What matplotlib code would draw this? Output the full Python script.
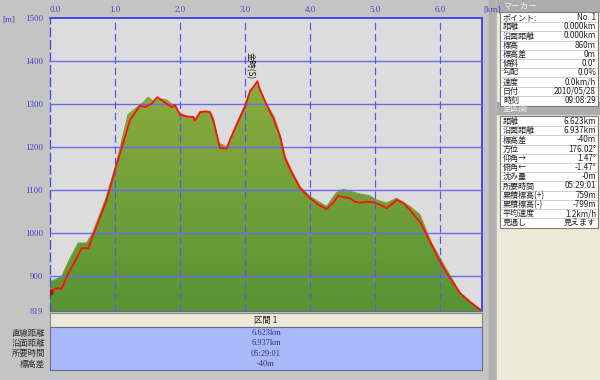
import numpy as np
import matplotlib
matplotlib.use("Agg")
import matplotlib.pyplot as plt
from matplotlib.patches import Rectangle
from matplotlib.colors import LinearSegmentedColormap

plt.rcParams['font.family'] = ['Noto Sans CJK JP', 'DejaVu Sans']

# ---- data ----
# GPS track (red line): distance [km], elevation [m]
track_km = [0.00, 0.128, 0.18, 0.257, 0.41, 0.488, 0.59, 0.666, 0.872, 1.0, 1.108,
            1.23, 1.385, 1.46, 1.565, 1.65, 1.743, 1.872, 1.923, 2.0, 2.103, 2.205,
            2.23, 2.308, 2.385, 2.46, 2.51, 2.615, 2.718, 2.77, 2.897, 3.0, 3.077,
            3.154, 3.19, 3.23, 3.333, 3.435, 3.538, 3.615, 3.72, 3.846, 4.0, 4.128,
            4.257, 4.358, 4.435, 4.51, 4.615, 4.69, 4.77, 4.872, 5.0, 5.18, 5.333,
            5.435, 5.538, 5.615, 5.69, 5.795, 5.897, 6.0, 6.103, 6.205, 6.308, 6.46,
            6.58, 6.623]
track_m = [864, 873, 870, 899, 942, 965, 965, 996, 1077, 1147, 1200,
           1263, 1296, 1293, 1301, 1316, 1306, 1293, 1298, 1275, 1271, 1270,
           1261, 1281, 1283, 1281, 1263, 1198, 1196, 1217, 1260, 1294, 1329,
           1345, 1353, 1333, 1298, 1267, 1225, 1174, 1140, 1105, 1081, 1066,
           1056, 1071, 1087, 1084, 1081, 1073, 1071, 1073, 1071, 1058, 1077,
           1070, 1054, 1039, 1027, 996, 965, 934, 907, 884, 861, 840,
           826, 822]

# terrain profile (green area)
terrain_km = [0.0, 0.18, 0.31, 0.435, 0.565, 0.666, 0.85, 1.0, 1.2, 1.385, 1.43,
              1.51, 1.59, 1.67, 1.79, 1.89, 2.0, 2.1, 2.2, 2.25, 2.31, 2.46, 2.51,
              2.6, 2.72, 2.77, 2.9, 3.0, 3.08, 3.17, 3.23, 3.33, 3.45, 3.54, 3.62,
              3.72, 3.846, 4.0, 4.257, 4.4, 4.51, 4.615, 4.77, 4.92, 5.02, 5.18,
              5.333, 5.538, 5.69, 5.87, 6.103, 6.308, 6.46, 6.58, 6.623]
terrain_m = [887, 899, 942, 977, 977, 1004, 1077, 1150, 1275, 1298, 1303,
             1316, 1306, 1312, 1310, 1298, 1279, 1272, 1270, 1265, 1283, 1283, 1268,
             1209, 1200, 1220, 1265, 1298, 1333, 1345, 1335, 1300, 1270, 1228, 1178,
             1145, 1108, 1085, 1062, 1093, 1102, 1097, 1091, 1087, 1077, 1070,
             1081, 1062, 1043, 977, 915, 861, 842, 828, 822]

peak_label = "金時(S)"

x_ticks = [0, 1, 2, 3, 4, 5, 6]
y_ticks = [819, 900, 1000, 1100, 1200, 1300, 1400, 1500]

marker_labels = ["ポイント:", "距離", "沿面距離", "標高", "標高差", "傾斜", "勾配",
                 "速度", "日付", "時刻"]
marker_values = ["No. 1", "0.000km", "0.000km", "860m", "0m", "0.0°", "0.0%",
                 "0.0km/h", "2010/05/28", "09:08:29"]

total_labels = ["距離", "沿面距離", "標高差", "方位", "仰角→", "俯角←", "沈み量",
                "所要時間", "累積標高(+)", "累積標高(-)", "平均速度", "見通し"]
total_values = ["6.623km", "6.937km", "-40m", "176.02°", "1.47°", "-1.47°", "-0m",
                "05:29:01", "759m", "-799m", "1.2km/h", "見えます"]

section_name = "区間 1"
section_labels = ["直線距離", "沿面距離", "所要時間", "標高差"]
section_values = ["6.623km", "6.937km", "05:29:01", "-40m"]

# ---- figure ----
fig = plt.figure(figsize=(6, 3.8), dpi=100, facecolor='#c4c4c4')

# background layer in pixel coordinates
bg = fig.add_axes([0, 0, 1, 1])
bg.set_xlim(0, 600)
bg.set_ylim(380, 0)
bg.axis('off')

axis_blue = '#4646c8'
serif = ['Liberation Serif', 'DejaVu Serif']

# splitter strip and right panel
bg.add_patch(Rectangle((489, 0), 8, 380, color='#b0b0b0'))
bg.add_patch(Rectangle((497, 0), 103, 380, color='#ece9d8'))
bg.add_patch(Rectangle((497, 0), 103, 12, color='#acacac'))
bg.add_patch(Rectangle((497, 102), 103, 12, color='#acacac'))
bg.text(503, 6, "マーカー", fontsize=6, color='#f4f4f4', va='center')
bg.text(503, 108, "全区間", fontsize=6, color='#f4f4f4', va='center')


def draw_table(top, labels, values, row_h=9.2):
    h = row_h * len(labels) + 2
    bg.add_patch(Rectangle((500, top), 98, h, facecolor='white',
                           edgecolor='#7a7a7a', lw=0.8))
    for i, (lab, val) in enumerate(zip(labels, values)):
        yc = top + 1 + row_h * (i + 0.5)
        if i > 0:
            bg.plot([501, 597], [top + 1 + row_h * i] * 2, color='#c8c8c8', lw=0.6)
        bg.text(503, yc, lab, fontsize=5.8, color='#222222', va='center')
        bg.text(596, yc, val, fontsize=5.8, color='#222222', va='center', ha='right')


draw_table(12, marker_labels, marker_values)
draw_table(116, total_labels, total_values)

# bottom section table
bg.add_patch(Rectangle((50, 313), 432, 14, facecolor='#ece9d8', edgecolor='#8a8a8a', lw=0.8))
bg.add_patch(Rectangle((50, 327), 432, 43, facecolor='#a8b8f8', edgecolor='#6a6a8a', lw=0.8))
bg.text(266, 320, section_name, fontsize=6, color='#222222', ha='center', va='center')
for i, (lab, val) in enumerate(zip(section_labels, section_values)):
    yc = 333 + 10.3 * i
    bg.text(45, yc, lab, fontsize=6, color='#333333', ha='right', va='center')
    bg.text(266, yc, val, fontsize=6, color='#333366', ha='center', va='center',
            family=serif)

bg.text(2, 20, "[m]", fontsize=6.5, color=axis_blue, va='center', family=serif)
bg.text(483, 10, "[km]", fontsize=6.5, color=axis_blue, va='center', family=serif)

# ---- profile axes ----
ax = fig.add_axes([50 / 600, (380 - 311) / 380, 432 / 600, 293 / 380])
ax.set_facecolor('#dcdcdc')
ymin, ymax = 819, 1500
xmax = 6.646

# green terrain with vertical gradient
poly = ax.fill_between(terrain_km, terrain_m, ymin, color='none', lw=0)
grad = np.linspace(0, 1, 256).reshape(-1, 1)
cmap = LinearSegmentedColormap.from_list('terrain_g', ['#579434', '#8aab3e'])
im = ax.imshow(grad, extent=[0, max(terrain_km), ymin, max(terrain_m)],
               origin='lower', cmap=cmap, aspect='auto', zorder=2)
im.set_clip_path(poly.get_paths()[0], transform=ax.transData)
ax.plot(terrain_km, terrain_m, color='#7f9e3a', lw=0.8, zorder=2)

# grid
for y in y_ticks[1:-1]:
    ax.axhline(y, color='#6a6af0', lw=1.0, zorder=3)
for x in x_ticks[1:]:
    ax.axvline(x, color='#5a5ae6', lw=0.9, ls=(0, (6, 3)), zorder=3)

# GPS track
ax.plot(track_km, track_m, color='#ff1010', lw=1.3, zorder=4)
ax.plot(track_km[0], track_m[0], 'o', ms=3.5, color='#b01010', zorder=5)

# peak marker label (vertical text)
ipk = int(np.argmax(track_m))
ax.text(track_km[ipk] - 0.11, track_m[ipk] + 36, peak_label, rotation=-90,
        fontsize=6, ha='center', va='center', color='#111111', zorder=5)

ax.set_xlim(0, xmax)
ax.set_ylim(ymin, ymax)

ax.xaxis.tick_top()
ax.set_xticks(x_ticks)
ax.set_xticklabels([f"{v:.1f}" for v in x_ticks], family=serif, fontsize=6.5,
                   color=axis_blue)
ax.get_xticklabels()[0].set_ha('left')
ax.set_yticks(y_ticks)
ax.set_yticklabels([str(v) for v in y_ticks], family=serif, fontsize=6.5,
                   color=axis_blue)
ax.tick_params(axis='x', length=0, pad=3)
ax.tick_params(axis='y', length=0, pad=5)

ax.spines['left'].set_color('#5050e0')
ax.spines['left'].set_linestyle((0, (6, 3)))
ax.spines['left'].set_linewidth(1.0)
for s in ['top', 'right']:
    ax.spines[s].set_color('#3c3cf0')
    ax.spines[s].set_linewidth(1.3)
ax.spines['bottom'].set_color('#6a6a8a')
ax.spines['bottom'].set_linewidth(0.8)

fig.savefig("out.png", dpi=100, facecolor=fig.get_facecolor())
